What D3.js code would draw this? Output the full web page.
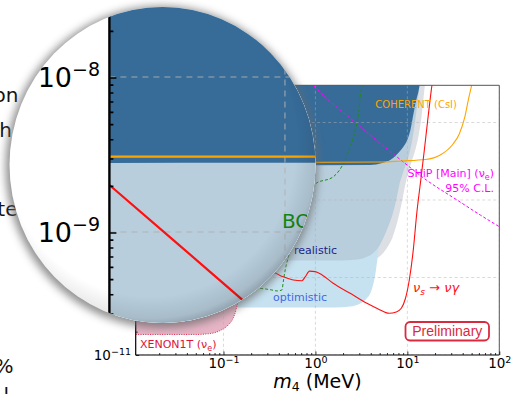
<!DOCTYPE html>
<html>
<head>
<meta charset="utf-8">
<script src="https://cdn.jsdelivr.net/npm/d3@7"></script>
<style>
  html, body { margin: 0; padding: 0; background: #fff; }
  svg { display: block; font-family: "DejaVu Sans", sans-serif; }
</style>
</head>
<body>
<svg id="fig" width="512" height="394"></svg>
<script>
// ---------- data (m4 in MeV, coupling on the vertical axis) ----------
const xMajor = [0.1, 1, 10, 100];
const xTickExps = ["\u22121", "0", "1", "2"];
const yMajor = [1e-11, 1e-10, 1e-9, 1e-8];
const yTickExps = ["\u221211", "\u221210", "\u22129", "\u22128"];

// radiative decay nu_s -> nu gamma
const nuGamma = [[0.0111, 2.01e-9], [0.025, 8.77e-10], [0.0583, 3.68e-10], [0.118, 1.79e-10],
  [0.221, 1.35e-10], [0.366, 1.14e-10], [0.447, 1.02e-10], [0.573, 9.29e-11], [0.713, 9.09e-11],
  [0.774, 1.02e-10], [0.863, 1.21e-10], [0.995, 1.19e-10], [1.18, 1.08e-10], [1.56, 8.42e-11],
  [2.39, 6.25e-11], [3.63, 4.64e-11], [4.82, 3.93e-11], [6.35, 3.45e-11], [7.57, 3.59e-11],
  [8.59, 4.01e-11], [9.49, 5.28e-11], [10.5, 9.29e-11], [11.6, 2.27e-10], [12.7, 7.0e-10],
  [14.0, 1.81e-9], [15.3, 4.42e-9], [16.9, 1.25e-8], [18.5, 3.02e-8], [18.9, 3.6e-8]];

// COHERENT (CsI)
const coherent = [[0.0111, 3.06e-9], [0.68, 3.06e-9], [5.07, 3.09e-9], [8.61, 3.19e-9],
  [15.7, 3.33e-9], [22.8, 3.81e-9], [30.8, 5.13e-9], [36.7, 7.11e-9], [42.2, 1.18e-8],
  [46.0, 1.95e-8], [50.8, 3.24e-8]];

// SHiP [Main] 95% C.L.
const ship = [[0.877, 3.33e-8], [1.046, 2.68e-8], [2.78, 9.77e-9], [8.95, 3.12e-9],
  [16.1, 1.81e-9], [34.7, 1.0e-9], [62.1, 6.4e-10], [100, 4.52e-10]];

// Borexino
const borexino = [[0.152, 7.0e-11], [0.251, 7.21e-11], [0.336, 6.9e-11], [0.384, 6.7e-11],
  [0.432, 6.9e-11], [0.450, 9.29e-11], [0.469, 1.25e-10], [0.509, 1.85e-10], [0.603, 3.53e-10],
  [0.700, 7.0e-10], [0.835, 1.27e-9], [0.995, 1.61e-9], [1.57, 2.0e-9], [2.02, 2.98e-9],
  [2.39, 4.88e-9], [2.71, 8.0e-9], [2.94, 1.31e-8], [3.07, 2.15e-8], [3.21, 3.05e-8]];

// shaded exclusion bands: lower edges, each band is filled up to the top of the axes
const bandGrey = [[0.0111, 1.61e-10], [3.07, 1.61e-10], [4.15, 1.68e-10], [5.07, 1.89e-10],
  [5.89, 2.33e-10], [6.85, 3.24e-10], [7.77, 5.2e-10], [8.59, 8.6e-10], [9.25, 1.35e-9],
  [9.97, 2.04e-9], [11.0, 3.0e-9], [12.2, 4.42e-9], [13.3, 6.9e-9], [14.2, 1.14e-8],
  [14.9, 1.95e-8], [15.5, 3.05e-8], [15.8, 4.1e-8]];
const bandOptimistic = [[0.0111, 4.10e-11], [1.64, 4.10e-11], [2.39, 4.22e-11], [3.07, 4.62e-11],
  [3.57, 5.28e-11], [4.05, 6.7e-11], [4.36, 9.29e-11], [4.59, 1.33e-10], [4.77, 1.95e-10],
  [4.89, 3.05e-10], [5.01, 1.0e-9], [5.07, 4.1e-8]];
const bandRealistic = [[0.0111, 1.66e-10], [1.86, 1.66e-10], [2.71, 1.69e-10], [3.48, 1.81e-10],
  [4.26, 2.07e-10], [4.95, 2.55e-10], [5.61, 3.43e-10], [6.35, 4.9e-10], [7.03, 7.0e-10],
  [7.57, 1.0e-9], [8.17, 1.56e-9], [9.02, 2.30e-9], [10.2, 3.48e-9], [11.3, 5.94e-9],
  [12.2, 1.08e-8], [13.0, 1.95e-8], [13.6, 3.05e-8], [14.0, 4.1e-8]];
const bandDark = [[0.0111, 2.79e-9], [3.94, 2.83e-9], [5.33, 3.0e-9], [6.52, 3.28e-9],
  [7.77, 3.93e-9], [9.02, 4.83e-9], [9.97, 5.94e-9], [10.8, 8.0e-9], [11.7, 1.33e-8],
  [12.5, 1.95e-8], [13.3, 2.62e-8], [13.8, 3.5e-8]];

// XENON1T (nu_e): lower edge and flat upper edge
const xenonLower = [[0.0111, 1.84e-11], [0.0492, 1.84e-11], [0.0717, 1.89e-11], [0.0920, 2.07e-11],
  [0.1125, 2.44e-11], [0.1276, 3.0e-11], [0.1375, 3.93e-11], [0.1445, 5.43e-11], [0.148, 8.0e-11],
  [0.150, 1.25e-10]];
const xenonUpper = 1.25e-10;

// ---------- layout ----------
const plot = { left: 135.7, right: 499.3, top: 85.3, bottom: 355 };
const x = d3.scaleLog().domain([0.0111, 100]).range([plot.left, plot.right]);
const y = d3.scaleLog().domain([1e-11, 3.02e-8]).range([plot.bottom, plot.top]);
const yCeil = 1e-7;

const svg = d3.select("#fig");
const defs = svg.append("defs");
defs.append("clipPath").attr("id", "plotArea").append("rect")
  .attr("x", plot.left).attr("y", plot.top)
  .attr("width", plot.right - plot.left).attr("height", plot.bottom - plot.top);

function addSub(t, main, sub, tail, subSize, shift) {
  t.append("tspan").text(main);
  t.append("tspan").attr("dy", shift).attr("font-size", subSize).text(sub);
  if (tail) t.append("tspan").attr("dy", -shift).text(tail);
}

function drawChart(root) {
  const inner = root.append("g").attr("clip-path", "url(#plotArea)");

  const band = d3.area().x(d => x(d[0])).y0(d => y(d[1])).y1(y(yCeil)).curve(d3.curveMonotoneX);
  inner.append("path").datum(bandGrey).attr("d", band).attr("fill", "#dcdfe4");
  inner.append("path").datum(bandOptimistic).attr("d", band).attr("fill", "#c6e2f0");
  inner.append("path").datum(bandRealistic).attr("d", band).attr("fill", "#b8cedd");
  inner.append("path").datum(bandDark).attr("d", band).attr("fill", "#376c99");

  const xenonArea = d3.area().x(d => x(d[0])).y0(d => y(d[1])).y1(y(xenonUpper)).curve(d3.curveMonotoneX);
  inner.append("path").datum(xenonLower).attr("d", xenonArea).attr("fill", "#e6b4c5");

  const line = d3.line().x(d => x(d[0])).y(d => y(d[1])).curve(d3.curveMonotoneX);
  inner.append("path").datum(xenonLower).attr("d", line).attr("fill", "none")
    .attr("stroke", "#dc143c").attr("stroke-width", 0.9).attr("stroke-dasharray", "1,1.4");

  // major grid
  const grid = inner.append("g").attr("stroke", "#b0b0b0").attr("stroke-opacity", 0.6)
    .attr("stroke-width", 0.8).attr("stroke-dasharray", "3,2.5");
  grid.selectAll("line.gx").data(xMajor).join("line").attr("class", "gx")
    .attr("x1", d => x(d)).attr("x2", d => x(d)).attr("y1", plot.top).attr("y2", plot.bottom);
  grid.selectAll("line.gy").data(yMajor).join("line").attr("class", "gy")
    .attr("y1", d => y(d)).attr("y2", d => y(d)).attr("x1", plot.left).attr("x2", plot.right);

  inner.append("path").datum(borexino).attr("d", line).attr("fill", "none")
    .attr("stroke", "#1f8a1f").attr("stroke-width", 1).attr("stroke-dasharray", "3,2");
  inner.append("path").datum(ship).attr("d", line).attr("fill", "none")
    .attr("stroke", "#ff00ff").attr("stroke-width", 1).attr("stroke-dasharray", "3,2");
  inner.append("path").datum(coherent).attr("d", line).attr("fill", "none")
    .attr("stroke", "#ffa500").attr("stroke-width", 1.1);
  inner.append("path").datum(nuGamma).attr("d", line).attr("fill", "none")
    .attr("stroke", "#ff1010").attr("stroke-width", 1.1);

  // in-plot labels
  inner.append("text").attr("x", 375.3).attr("y", 108).attr("font-size", 10)
    .attr("fill", "#ffa500").text("COHERENT (CsI)");
  const shipT = inner.append("text").attr("x", 494).attr("y", 177).attr("font-size", 11)
    .attr("fill", "#ff00ff").attr("text-anchor", "end");
  addSub(shipT, "SHiP [Main] (\u03bd", "e", ")", 8, 2.5);
  inner.append("text").attr("x", 494).attr("y", 192).attr("font-size", 11)
    .attr("fill", "#ff00ff").attr("text-anchor", "end").text("95% C.L.");
  inner.append("text").attr("x", 222).attr("y", 198).attr("font-size", 10)
    .attr("fill", "#138a13").text("BOREXINO");
  inner.append("text").attr("x", 294).attr("y", 253.5).attr("font-size", 11)
    .attr("fill", "#1c1f8a").text("realistic");
  inner.append("text").attr("x", 273).attr("y", 300.5).attr("font-size", 11)
    .attr("fill", "#4169e1").text("optimistic");
  const xenT = inner.append("text").attr("x", 140).attr("y", 348).attr("font-size", 11)
    .attr("fill", "#dc143c");
  addSub(xenT, "XENON1T (\u03bd", "e", ")", 8, 2.5);
  const gT = inner.append("text").attr("x", 413).attr("y", 292).attr("font-size", 13)
    .attr("fill", "#ff1010").attr("font-style", "italic");
  addSub(gT, "\u03bd", "s", " \u2192 \u03bd\u03b3", 9, 3);

  // "Preliminary" stamp
  inner.append("rect").attr("x", 405.5).attr("y", 322).attr("width", 83.5).attr("height", 18.5)
    .attr("rx", 4.5).attr("fill", "#fff").attr("stroke", "#d92a40").attr("stroke-width", 1.8);
  inner.append("text").attr("x", 447.3).attr("y", 335.8).attr("text-anchor", "middle")
    .attr("font-family", "'Liberation Sans', Arial, sans-serif").attr("font-size", 14)
    .attr("fill", "#d92a40").text("Preliminary");

  // spines
  const sp = root.append("g");
  sp.append("line").attr("x1", plot.left).attr("x2", plot.right).attr("y1", plot.top).attr("y2", plot.top)
    .attr("stroke", "#555").attr("stroke-width", 1);
  sp.append("line").attr("x1", plot.right).attr("x2", plot.right).attr("y1", plot.top).attr("y2", plot.bottom)
    .attr("stroke", "#555").attr("stroke-width", 1);
  sp.append("line").attr("x1", plot.left).attr("x2", plot.right).attr("y1", plot.bottom).attr("y2", plot.bottom)
    .attr("stroke", "#000").attr("stroke-width", 1.2);
  sp.append("line").attr("x1", plot.left).attr("x2", plot.left).attr("y1", plot.top).attr("y2", plot.bottom)
    .attr("stroke", "#000").attr("stroke-width", 1.2);

  // ticks (inward) and labels
  const isMajor = v => Math.abs(Math.log10(v) - Math.round(Math.log10(v))) < 1e-9;
  const xMinor = x.ticks().filter(v => !isMajor(v));
  const yMinor = y.ticks().filter(v => !isMajor(v));

  const xa = root.append("g").attr("transform", `translate(0,${plot.bottom})`)
    .call(d3.axisBottom(x).tickValues(xMajor).tickSizeInner(-3.5).tickSizeOuter(0).tickFormat(() => ""));
  root.append("g").attr("transform", `translate(0,${plot.bottom})`)
    .call(d3.axisBottom(x).tickValues(xMinor).tickSizeInner(-2).tickSizeOuter(0).tickFormat(() => ""))
    .call(g => g.select(".domain").remove());
  const ya = root.append("g").attr("transform", `translate(${plot.left},0)`)
    .call(d3.axisLeft(y).tickValues(yMajor).tickSizeInner(-3.5).tickSizeOuter(0).tickFormat(() => ""));
  root.append("g").attr("transform", `translate(${plot.left},0)`)
    .call(d3.axisLeft(y).tickValues(yMinor).tickSizeInner(-2).tickSizeOuter(0).tickFormat(() => ""))
    .call(g => g.select(".domain").remove());
  xa.select(".domain").remove();
  ya.select(".domain").remove();
  root.selectAll(".tick line").attr("stroke", "#000").attr("stroke-width", 0.8);

  xa.selectAll(".tick text").each(function (d, i) {
    const t = d3.select(this).attr("y", 13.3).attr("dy", null).attr("fill", "#000")
      .attr("font-family", "'DejaVu Sans', sans-serif").attr("font-size", 13.5).attr("text-anchor", "middle");
    t.text(null);
    t.append("tspan").text("10");
    t.append("tspan").attr("dy", -5.5).attr("font-size", 9.5).text(xTickExps[i]);
  });
  ya.selectAll(".tick text").each(function (d, i) {
    const t = d3.select(this).attr("x", -4.7).attr("dy", null).attr("y", 4.5).attr("fill", "#000")
      .attr("font-family", "'DejaVu Sans', sans-serif").attr("font-size", 13.5).attr("text-anchor", "end");
    t.text(null);
    t.append("tspan").text("10");
    t.append("tspan").attr("dy", -5.5).attr("font-size", 9.5).text(yTickExps[i]);
  });

  // x-axis title
  const xt = root.append("text").attr("x", (plot.left + plot.right) / 2).attr("y", 387.5)
    .attr("text-anchor", "middle").attr("font-size", 19).attr("fill", "#000");
  xt.append("tspan").attr("font-style", "italic").text("m");
  xt.append("tspan").attr("dy", 3).attr("font-size", 12.5).text("4");
  xt.append("tspan").attr("dy", -3).text(" (MeV)");
}

// base chart
drawChart(svg.append("g"));

// neighbouring slide text at the left border
const side = svg.append("g").attr("font-size", 20).attr("fill", "#111").attr("text-anchor", "end");
side.append("text").attr("x", 18.5).attr("y", 102).text("on");
side.append("text").attr("x", 12).attr("y", 137).text("h");
side.append("text").attr("x", 17.5).attr("y", 216).text("te");
side.append("text").attr("x", 13.5).attr("y", 373).text("%");
side.append("text").attr("x", 9).attr("y", 402).text("l");

// ---------- magnifying lens ----------
const lens = { cx: 162.5, cy: 165, rx: 153, ry: 158 };
const focus = { x: 162, y: 168, k: 2 };

const blur = defs.append("filter").attr("id", "soften")
  .attr("x", "-15%").attr("y", "-15%").attr("width", "130%").attr("height", "130%");
blur.append("feGaussianBlur").attr("stdDeviation", 4.5);

defs.append("clipPath").attr("id", "lensClip").append("ellipse")
  .attr("cx", lens.cx).attr("cy", lens.cy).attr("rx", lens.rx).attr("ry", lens.ry);

const shade = defs.append("radialGradient").attr("id", "lensShade")
  .attr("cx", 0.46).attr("cy", 0.44).attr("r", 0.58);
shade.append("stop").attr("offset", 0).attr("stop-color", "#000").attr("stop-opacity", 0);
shade.append("stop").attr("offset", 0.82).attr("stop-color", "#000").attr("stop-opacity", 0);
shade.append("stop").attr("offset", 0.94).attr("stop-color", "#000").attr("stop-opacity", 0.09);
shade.append("stop").attr("offset", 1).attr("stop-color", "#000").attr("stop-opacity", 0.25);

svg.append("ellipse")
  .attr("cx", lens.cx - 1).attr("cy", lens.cy + 2).attr("rx", lens.rx + 3).attr("ry", lens.ry + 3)
  .attr("fill", "#6a6a6a").attr("opacity", 0.75).attr("filter", "url(#soften)");

const lensG = svg.append("g").attr("clip-path", "url(#lensClip)");
lensG.append("rect").attr("x", 0).attr("y", 0).attr("width", 512).attr("height", 394).attr("fill", "#fff");
const zoomG = lensG.append("g")
  .attr("transform", `translate(${focus.x},${focus.y}) scale(${focus.k}) translate(${-focus.x},${-focus.y})`);
drawChart(zoomG);
lensG.append("ellipse").attr("cx", lens.cx).attr("cy", lens.cy).attr("rx", lens.rx).attr("ry", lens.ry)
  .attr("fill", "url(#lensShade)");
</script>
</body>
</html>
